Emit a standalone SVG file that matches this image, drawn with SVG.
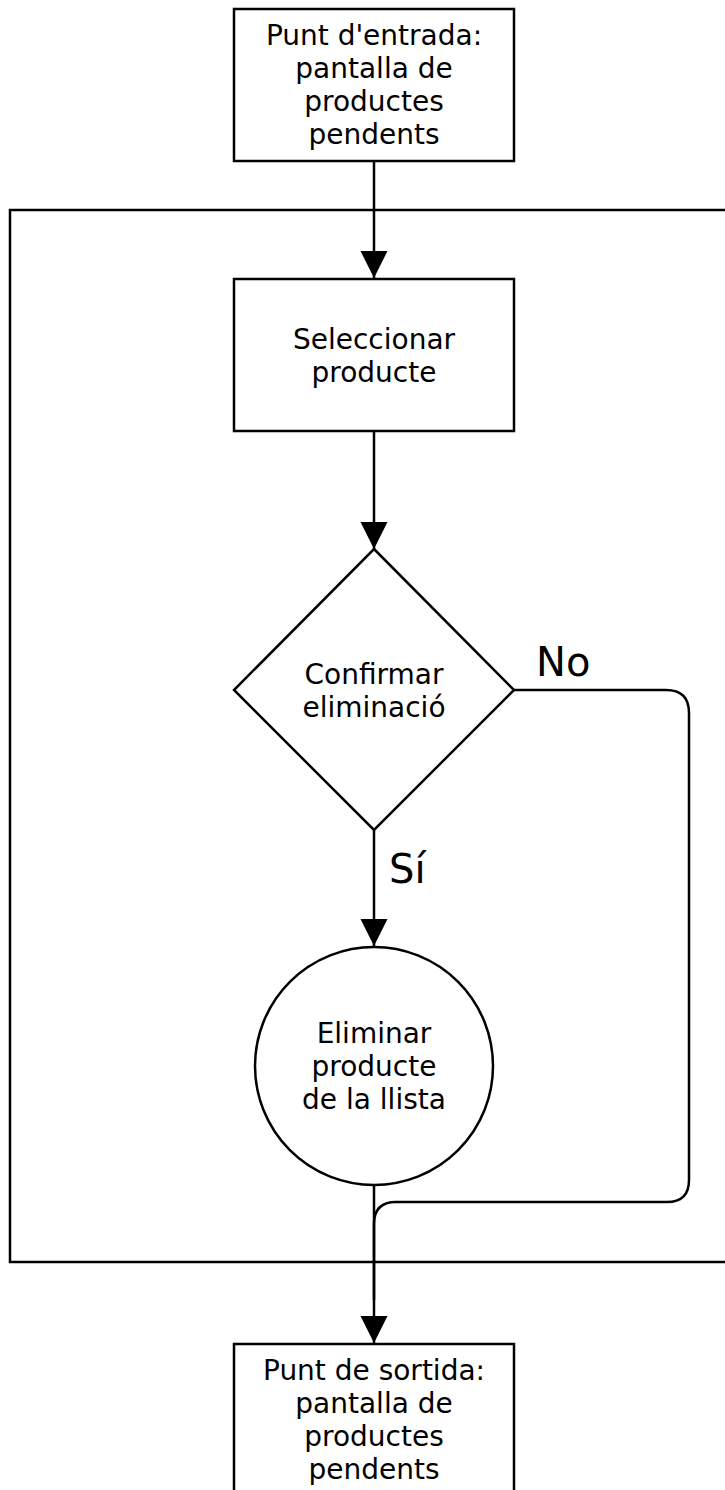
<svg xmlns="http://www.w3.org/2000/svg" width="725" height="1490" viewBox="0 0 725 1490">
<style>
.shape{fill:#fff;stroke:#000;stroke-width:2.5}
.frame{fill:none;stroke:#000;stroke-width:2.5}
.edge{fill:none;stroke:#000;stroke-width:2.5}
.t{font-family:"DejaVu Sans",sans-serif;font-size:28px;text-anchor:middle;fill:#000}
.lbl{font-family:"DejaVu Sans",sans-serif;font-size:40px;fill:#000}
</style>
<defs>
<marker id="arr" markerUnits="userSpaceOnUse" markerWidth="28" markerHeight="28" refX="27" refY="13.5" orient="auto" viewBox="0 0 28 28">
<path d="M0,0 L27,13.5 L0,27 z" fill="#000"/>
</marker>
</defs>
<rect class="frame" x="10" y="210" width="740" height="1052"/>
<g id="connectors">
<path class="edge" d="M374,161 L374,278" marker-end="url(#arr)"/>
<path class="edge" d="M374,431 L374,549" marker-end="url(#arr)"/>
<path class="edge" d="M374,830 L374,946" marker-end="url(#arr)"/>
<path class="edge" d="M374,1185 L374,1343" marker-end="url(#arr)"/>
<path class="edge" d="M514,690 L666,690 Q689,690 689,713 L689,1180 Q689,1202 667,1202 L396,1202 Q374,1202 374,1224 L374,1300"/>
<text class="lbl" x="536" y="676">No</text>
<text class="lbl" x="389" y="883">Sí</text>
</g>
<g id="entrada">
<rect class="shape" x="234" y="9" width="280" height="152"/>
<text class="t" x="374" y="45">Punt d'entrada:</text>
<text class="t" x="374" y="78">pantalla de</text>
<text class="t" x="374" y="111">productes</text>
<text class="t" x="374" y="144">pendents</text>
</g>
<g id="seleccionar">
<rect class="shape" x="234" y="279" width="280" height="152"/>
<text class="t" x="374" y="349">Seleccionar</text>
<text class="t" x="374" y="382">producte</text>
</g>
<g id="confirmar">
<path class="shape" d="M374,549 L514,690 L374,830 L234,690 z"/>
<text class="t" x="374" y="684">Confirmar</text>
<text class="t" x="374" y="717">eliminació</text>
</g>
<g id="eliminar">
<circle class="shape" cx="374" cy="1066" r="119"/>
<text class="t" x="374" y="1043">Eliminar</text>
<text class="t" x="374" y="1076">producte</text>
<text class="t" x="374" y="1109">de la llista</text>
</g>
<g id="sortida">
<rect class="shape" x="234" y="1344" width="280" height="152"/>
<text class="t" x="374" y="1380">Punt de sortida:</text>
<text class="t" x="374" y="1413">pantalla de</text>
<text class="t" x="374" y="1446">productes</text>
<text class="t" x="374" y="1479">pendents</text>
</g>
</svg>
